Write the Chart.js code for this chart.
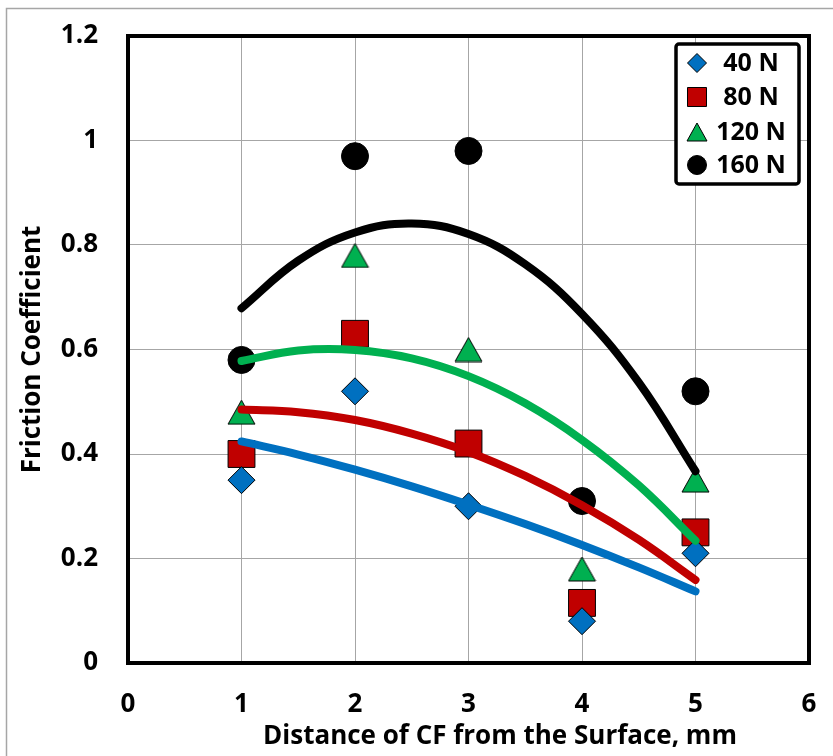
<!DOCTYPE html>
<html>
<head>
<meta charset="utf-8">
<script src="https://cdn.jsdelivr.net/npm/chart.js@4.4.1/dist/chart.umd.min.js"></script>
<style>
  html, body { margin: 0; padding: 0; background: #fff; }
  #wrap { width: 833px; height: 756px; position: relative; }
</style>
</head>
<body>
<div id="wrap"><canvas id="chart"></canvas></div>
<script>
// measured friction coefficients vs. CF depth
const distances = [1, 2, 3, 4, 5];
const loadLabels = ['40 N', '80 N', '120 N', '160 N'];
const mu40 = [0.35, 0.52, 0.30, 0.08, 0.21];
const mu80 = [0.40, 0.63, 0.42, 0.115, 0.25];
const mu120 = [0.48, 0.78, 0.60, 0.18, 0.35];
const mu160 = [0.58, 0.97, 0.98, 0.31, 0.52];

// trend curves, sampled every 0.5 mm
const trendX = [1, 1.5, 2, 2.5, 3, 3.5, 4, 4.5, 5];
const trend40 = [0.424, 0.399, 0.370, 0.338, 0.303, 0.266, 0.226, 0.183, 0.137];
const trend80 = [0.485, 0.480, 0.465, 0.439, 0.404, 0.358, 0.302, 0.236, 0.159];
const trend120 = [0.578, 0.598, 0.599, 0.583, 0.549, 0.497, 0.427, 0.340, 0.234];
const trend160 = [0.679, 0.770, 0.824, 0.841, 0.821, 0.763, 0.668, 0.537, 0.367];

const xTicks = [0, 1, 2, 3, 4, 5, 6];
const yTicks = [0, 0.2, 0.4, 0.6, 0.8, 1, 1.2];

const BLUE = '#0070C0', RED = '#C00000', GREEN = '#00B050', BLACK = '#000000';
const FONT = '"Open Sans", sans-serif';

// triangle marker centred on its bounding box
function makeTriangle(w, h, fill) {
  const c = document.createElement('canvas');
  c.width = w + 2; c.height = h + 2;
  const g = c.getContext('2d');
  g.beginPath();
  g.moveTo(1 + w / 2, 1);
  g.lineTo(1 + w, 1 + h);
  g.lineTo(1, 1 + h);
  g.closePath();
  g.fillStyle = fill; g.fill();
  g.lineWidth = 1; g.strokeStyle = '#000'; g.stroke();
  return c;
}

const pts = (xs, ys) => xs.map((x, i) => ({ x: x, y: ys[i] }));

function markerSet(label, ys, style, fill, radius) {
  return {
    type: 'scatter', label: label, data: pts(distances, ys), order: 2,
    pointStyle: style, pointRadius: radius, pointHoverRadius: radius,
    backgroundColor: fill, borderColor: '#000', pointBorderWidth: 1, borderWidth: 1
  };
}
function trendSet(ys, color) {
  return {
    type: 'line', label: '', data: pts(trendX, ys), order: 1,
    borderColor: color, borderWidth: 8, borderCapStyle: 'round', borderJoinStyle: 'round',
    tension: 0.4, pointRadius: 0, fill: false
  };
}

const triangle = makeTriangle(27, 24, GREEN);

// outer frame + thick plot border + axis titles
const framePlugin = {
  id: 'frame',
  beforeDraw(chart) {
    const ctx = chart.ctx;
    ctx.save();
    ctx.fillStyle = '#fff';
    ctx.fillRect(0, 0, chart.width, chart.height);
    ctx.strokeStyle = '#A6A6A6';
    ctx.lineWidth = 1.5;
    ctx.strokeRect(6.5, 8.5, 1000, 1000);
    ctx.restore();
  },
  beforeDatasetsDraw(chart) {
    const a = chart.chartArea, ctx = chart.ctx;
    ctx.save();
    ctx.strokeStyle = '#000';
    ctx.lineWidth = 4;
    ctx.strokeRect(a.left, a.top, a.right - a.left, a.bottom - a.top);
    ctx.restore();
  },
  afterDraw(chart) {
    const ctx = chart.ctx, a = chart.chartArea;
    ctx.save();
    ctx.fillStyle = '#000';
    ctx.font = 'bold 26px ' + FONT;
    ctx.textAlign = 'center';
    ctx.textBaseline = 'middle';
    ctx.fillText('Distance of CF from the Surface, mm', 500, 737);
    ctx.translate(33, (a.top + a.bottom) / 2);
    ctx.rotate(-Math.PI / 2);
    ctx.fillText('Friction Coefficient', 0, 0);
    ctx.restore();
  }
};

// boxed legend in the top-right corner of the plot
const legendPlugin = {
  id: 'boxLegend',
  afterDraw(chart) {
    const ctx = chart.ctx;
    const box = { x: 676, y: 44, w: 123, h: 140 };
    ctx.save();
    ctx.fillStyle = '#fff';
    ctx.strokeStyle = '#000';
    ctx.lineWidth = 3.5;
    ctx.beginPath();
    ctx.roundRect(box.x, box.y, box.w, box.h, 3);
    ctx.fill();
    ctx.stroke();
    const rows = [63, 97, 132, 165];
    const mx = 697;
    ctx.lineWidth = 1;
    rows.forEach((y, i) => {
      ctx.beginPath();
      if (i === 0) {
        ctx.moveTo(mx, y - 9.5); ctx.lineTo(mx + 9.5, y); ctx.lineTo(mx, y + 9.5); ctx.lineTo(mx - 9.5, y);
        ctx.closePath(); ctx.fillStyle = BLUE;
      } else if (i === 1) {
        ctx.rect(mx - 9.5, y - 9.5, 19, 19); ctx.fillStyle = RED;
      } else if (i === 2) {
        ctx.moveTo(mx, y - 9); ctx.lineTo(mx + 10, y + 9); ctx.lineTo(mx - 10, y + 9);
        ctx.closePath(); ctx.fillStyle = GREEN;
      } else {
        ctx.arc(mx, y, 9.5, 0, Math.PI * 2); ctx.fillStyle = BLACK;
      }
      ctx.fill();
      ctx.strokeStyle = '#000';
      ctx.stroke();
      ctx.fillStyle = '#000';
      ctx.font = 'bold 25px ' + FONT;
      ctx.textAlign = 'center';
      ctx.textBaseline = 'middle';
      ctx.fillText(loadLabels[i], 751, y + 1);
    });
    ctx.restore();
  }
};

new Chart(document.getElementById('chart'), {
  data: {
    datasets: [
      markerSet(loadLabels[0], mu40, 'rectRot', BLUE, 13.5),
      markerSet(loadLabels[1], mu80, 'rect', RED, 19),
      markerSet(loadLabels[2], mu120, triangle, GREEN, 13),
      markerSet(loadLabels[3], mu160, 'circle', BLACK, 13.5),
      trendSet(trend40, BLUE),
      trendSet(trend80, RED),
      trendSet(trend120, GREEN),
      trendSet(trend160, BLACK)
    ]
  },
  options: {
    responsive: true,
    maintainAspectRatio: false,
    animation: false,
    layout: { padding: { top: 36, right: 24, left: 0, bottom: 0 } },
    plugins: { legend: { display: false }, tooltip: { enabled: false } },
    scales: {
      x: {
        type: 'linear', min: 0, max: 6,
        afterBuildTicks: s => { s.ticks = xTicks.map(v => ({ value: v })); },
        afterFit: s => { s.height = 93; s.paddingLeft = 0; s.paddingRight = 0; },
        ticks: { padding: 26, color: '#000', font: { family: FONT, size: 26, weight: 'bold' } },
        grid: { color: '#A6A6A6', lineWidth: 1, drawTicks: false },
        border: { display: false }
      },
      y: {
        type: 'linear', min: 0, max: 1.2,
        afterBuildTicks: s => { s.ticks = yTicks.map(v => ({ value: v })); },
        afterFit: s => { s.width = 128; s.paddingTop = 0; s.paddingBottom = 0; },
        ticks: {
          padding: 30, color: '#000', font: { family: FONT, size: 26, weight: 'bold' },
          callback: v => String(v)
        },
        grid: { color: '#A6A6A6', lineWidth: 1, drawTicks: false },
        border: { display: false }
      }
    }
  },
  plugins: [framePlugin, legendPlugin]
});
</script>
</body>
</html>
